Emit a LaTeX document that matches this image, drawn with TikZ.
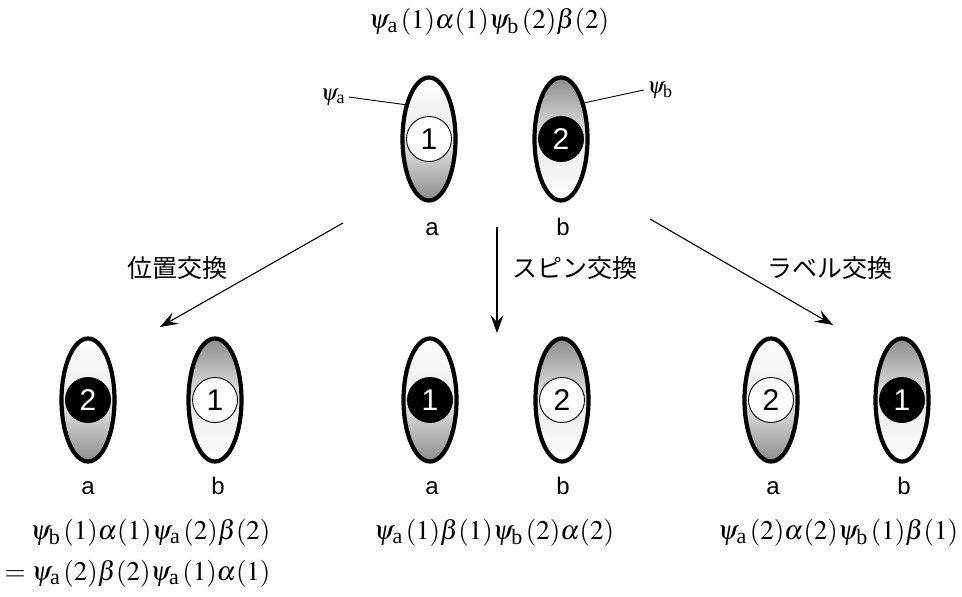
\documentclass[tikz,border=0pt]{standalone}
\usepackage{mathptmx}
\usepackage{fontspec}
\setmainfont{Liberation Serif}
\setsansfont{Liberation Sans}
\newfontfamily\jpfont{Noto Sans CJK JP}
\usetikzlibrary{shapes.geometric, arrows.meta, positioning}
\newcommand{\orbital}[2][22]{\psi_{\hbox{\fontsize{#1}{#1}\selectfont #2}}\,}

\begin{document}
\begin{tikzpicture}[x=1pt,y=-1pt,
	orb/.style={ellipse,draw,line width=4.2pt,minimum width=53pt,minimum height=123pt,inner sep=0pt},
	orba/.style={orb,top color=white,bottom color=black!45,middle color=black!8},
	orbb/.style={orb,top color=black!45,bottom color=white,middle color=black!8},
	eup/.style={circle,draw,line width=0.9pt,fill=white,minimum size=45pt,inner sep=0pt,font=\sffamily\fontsize{30}{30}\selectfont},
	edn/.style={eup,fill=black,text=white},
	site/.style={font=\sffamily\fontsize{24}{24}\selectfont,anchor=base},
	wf/.style={font=\fontsize{27}{30}\selectfont,anchor=base},
	swap/.style={font=\jpfont\fontsize{25}{25}\selectfont},
	arr/.style={-{Stealth[length=18pt,width=13pt,inset=7pt]},line width=1.1pt}]
				\useasboundingbox (0,0) rectangle (962,597);
				\node[wf] (wftop) at (489,28) {$\orbital{a}(1)\alpha(1)\orbital{b}(2)\beta(2)$};
				% starting pair
				\node[orba] (ta) at (429,139) {};
				\node[eup] (ta1) at (ta) {1};
				\node[orbb] (tb) at (561,139) {};
				\node[edn] (tb2) at (tb) {2};
				\node[site] (tla) at (432,235) {a};
				\node[site] (tlb) at (563,235) {b};
				\node[font=\fontsize{23}{23}\selectfont] (psia) at (333,97) {$\psi_{\hbox{\fontsize{18}{18}\selectfont a}}$};
				\node[font=\fontsize{23}{23}\selectfont] (psib) at (660,90) {$\psi_{\hbox{\fontsize{18}{18}\selectfont b}}$};
				\draw[line width=0.9pt] (psia.east) -- (ta.125);
				\draw[line width=0.9pt] (psib.west) -- (tb.57);
				% arrows
				\coordinate (lfrom) at (343,223);
				\coordinate (lto) at (160,327);
				\coordinate (mfrom) at (497,227);
				\coordinate (mto) at (497,333);
				\coordinate (rfrom) at (650,219);
				\coordinate (rto) at (833,325);
				\draw[arr] (lfrom) -- (lto);
				\draw[arr] (mfrom) -- (mto);
				\draw[arr] (rfrom) -- (rto);
				\node[swap] (lswap) at (177,268) {位置交換};
				\node[swap] (mswap) at (575,268) {スピン交換};
				\node[swap] (rswap) at (830,268) {ラベル交換};
				% position swap
				\node[orba] (la) at (88,400) {};
				\node[edn] (la2) at (la) {2};
				\node[orbb] (lb) at (215,400) {};
				\node[eup] (lb1) at (lb) {1};
				\node[site] (lla) at (88,494) {a};
				\node[site] (llb) at (218,494) {b};
				\node[wf,anchor=base east] (wfl1) at (274,539) {$\orbital{b}(1)\alpha(1)\orbital{a}(2)\beta(2)$};
				\node[wf,anchor=base east] (wfl2) at (274,580) {$=\orbital{a}(2)\beta(2)\orbital{a}(1)\alpha(1)$};
				% spin swap
				\node[orba] (ma) at (430,400) {};
				\node[edn] (ma1) at (ma) {1};
				\node[orbb] (mb) at (562,400) {};
				\node[eup] (mb2) at (mb) {2};
				\node[site] (mla) at (432,494) {a};
				\node[site] (mlb) at (563,494) {b};
				\node[wf] (wfm) at (494,539) {$\orbital{a}(1)\beta(1)\orbital{b}(2)\alpha(2)$};
				% label swap
				\node[orba] (ra) at (771,400) {};
				\node[eup] (ra2) at (ra) {2};
				\node[orbb] (rb) at (902,400) {};
				\node[edn] (rb1) at (rb) {1};
				\node[site] (rla) at (773,494) {a};
				\node[site] (rlb) at (904,494) {b};
				\node[wf] (wfr) at (838,539) {$\orbital{a}(2)\alpha(2)\orbital{b}(1)\beta(1)$};
\end{tikzpicture}
\end{document}
